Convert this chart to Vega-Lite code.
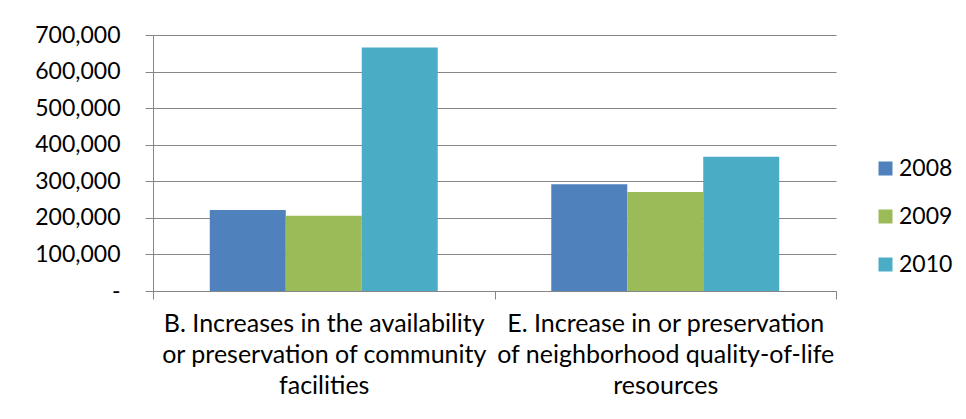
{
  "$schema": "https://vega.github.io/schema/vega-lite/v6.json",
  "width": 683,
  "height": 256,
  "autosize": {"type": "none"},
  "padding": {"left": 153, "top": 35, "right": 130, "bottom": 128},
  "background": "white",
  "config": {"view": {"stroke": null}, "font": "Lato"},
  "data": {
    "values": [
      {"category": "B", "year": "2008", "value": 221500},
      {"category": "B", "year": "2009", "value": 206000},
      {"category": "B", "year": "2010", "value": 666000},
      {"category": "E", "year": "2008", "value": 291700},
      {"category": "E", "year": "2009", "value": 270700},
      {"category": "E", "year": "2010", "value": 367000}
    ]
  },
  "mark": {"type": "bar"},
  "encoding": {
    "x": {
      "field": "category",
      "type": "nominal",
      "sort": null,
      "scale": {"paddingInner": 0, "paddingOuter": 0},
      "axis": {
        "title": null,
        "labelAngle": 0,
        "tickBand": "extent",
        "tickSize": 8,
        "tickColor": "#868686",
        "domainColor": "#868686",
        "labelFontSize": 25,
        "labelColor": "black",
        "labelPadding": 12,
        "labelLineHeight": 31,
        "labelLimit": 0,
        "labelExpr": "datum.value == 'B' ? ['B. Increases in the availability', 'or preservation of community', 'facilities'] : datum.value == 'E' ? ['E. Increase in or preservation', 'of neighborhood quality-of-life', 'resources'] : ''"
      }
    },
    "xOffset": {"field": "year", "type": "nominal", "scale": {"paddingInner": 0, "paddingOuter": 0.747}},
    "y": {
      "field": "value",
      "type": "quantitative",
      "scale": {"domain": [0, 700000], "nice": false},
      "axis": {
        "title": null,
        "values": [0, 100000, 200000, 300000, 400000, 500000, 600000, 700000],
        "tickSize": 8,
        "tickColor": "#868686",
        "domainColor": "#868686",
        "grid": true,
        "gridColor": "#868686",
        "gridOpacity": 1,
        "labelFontSize": 23,
        "labelColor": "black",
        "labelPadding": 25,
        "labelExpr": "datum.value == 0 ? '-\u00a0\u00a0' : format(datum.value, ',')"
      }
    },
    "color": {
      "field": "year",
      "type": "nominal",
      "scale": {"domain": ["2008", "2009", "2010"], "range": ["#4F81BD", "#9BBB59", "#4BACC6"]},
      "legend": {
        "title": null,
        "orient": "none",
        "legendX": 721,
        "legendY": 122,
        "symbolType": "square",
        "symbolSize": 196,
        "symbolStrokeWidth": 0,
        "symbolOpacity": 1,
        "labelFontSize": 23,
        "labelColor": "black",
        "labelOffset": 2,
        "rowPadding": 24
      }
    }
  }
}
